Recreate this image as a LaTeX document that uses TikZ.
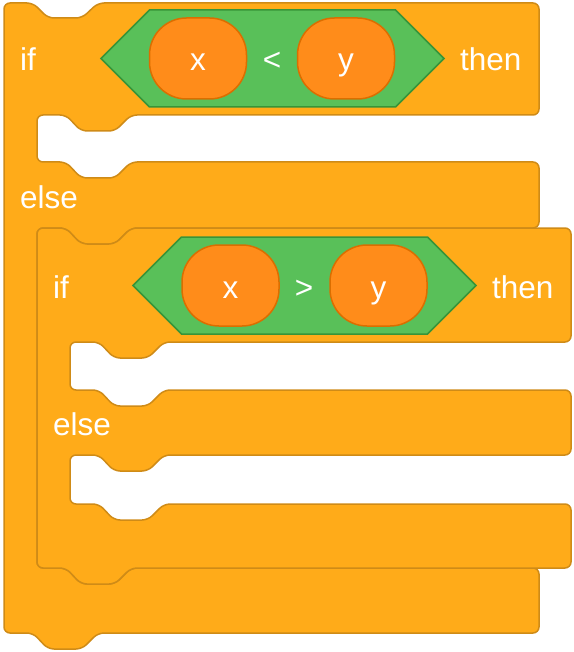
\documentclass[tikz,border=0pt]{standalone}
\usepackage{fontspec}
\setmainfont{Liberation Sans}
\definecolor{ctrl}{HTML}{FFAB19}
\definecolor{ctrlb}{HTML}{CF8B17}
\definecolor{opg}{HTML}{59C059}
\definecolor{opgb}{HTML}{389438}
\definecolor{rep}{HTML}{FF8C1A}
\definecolor{repb}{HTML}{DB6E00}
\begin{document}
\begin{tikzpicture}[x=1pt,y=-1pt,
 blockshape/.style={fill=ctrl,draw=ctrlb,line width=1.5pt,rounded corners=6pt,line join=round},
 hexshape/.style={fill=opg,draw=opgb,line width=1.5pt,line join=miter},
 oval/.style={rectangle,fill=rep,draw=repb,line width=1.5pt,rounded corners=37pt,minimum width=97pt,minimum height=81pt,inner sep=0pt},
 word/.style={text=white,font=\fontsize{31.5}{36}\selectfont,inner sep=0pt,anchor=base west},
 sym/.style={text=white,font=\fontsize{31.5}{36}\selectfont,inner sep=0pt,anchor=base}]
\useasboundingbox (0,0) rectangle (573,652);
% outer if/else block
\draw[blockshape] (4,3) -- (33,3) -- (48,18) -- (82,18) -- (98,3) -- (539,3) -- (539,115)
  -- (131,115) -- (115,131) -- (81,131) -- (66,115) -- (37,115) -- (37,162)
  -- (66,162) -- (81,178) -- (115,178) -- (131,162) -- (539,162) -- (539,228)
  -- (131,228) -- (115,244) -- (81,244) -- (66,228) -- (37,228) -- (37,568)
  -- (66,568) -- (81,584) -- (115,584) -- (131,568) -- (539,568) -- (539,633)
  -- (98,633) -- (82,649) -- (48,649) -- (33,633) -- (4,633) -- cycle;
% inner if/else block
\draw[blockshape] (37,228) -- (66,228) -- (81,244) -- (115,244) -- (131,228) -- (571,228) -- (571,342)
  -- (164,342) -- (148,358) -- (114,358) -- (99,342) -- (70,342) -- (70,390)
  -- (99,390) -- (114,406) -- (148,406) -- (164,390) -- (571,390) -- (571,455)
  -- (164,455) -- (148,471) -- (114,471) -- (99,455) -- (70,455) -- (70,504)
  -- (99,504) -- (114,520) -- (148,520) -- (164,504) -- (571,504) -- (571,568)
  -- (131,568) -- (115,584) -- (81,584) -- (66,568) -- (37,568) -- cycle;
% conditions
\draw[hexshape] (101,58.5) -- (149.5,10) -- (395.5,10) -- (444,58.5) -- (395.5,107) -- (149.5,107) -- cycle;
\draw[hexshape] (133,285.5) -- (181.5,237) -- (427.5,237) -- (476,285.5) -- (427.5,334) -- (181.5,334) -- cycle;
\node[oval] (ox1) at (198,58.5) {};
\node[oval] (oy1) at (346,58.5) {};
\node[oval] (ox2) at (230.5,285.5) {};
\node[oval] (oy2) at (378.5,285.5) {};
% texts
\node[word] (if1) at (20,71) {if};
\node[word] (then1) at (460,71) {then};
\node[word] (else1) at (20,208) {else};
\node[word] (if2) at (53,298) {if};
\node[word] (then2) at (492,298) {then};
\node[word] (else2) at (53,435) {else};
\node[sym] (tx1) at (198,71) {x};
\node[sym] (ty1) at (346,71) {y};
\node[sym] (lt) at (272,71) {<};
\node[sym] (tx2) at (230.5,298) {x};
\node[sym] (ty2) at (378.5,298) {y};
\node[sym] (gt) at (304,298) {>};
\end{tikzpicture}
\end{document}
